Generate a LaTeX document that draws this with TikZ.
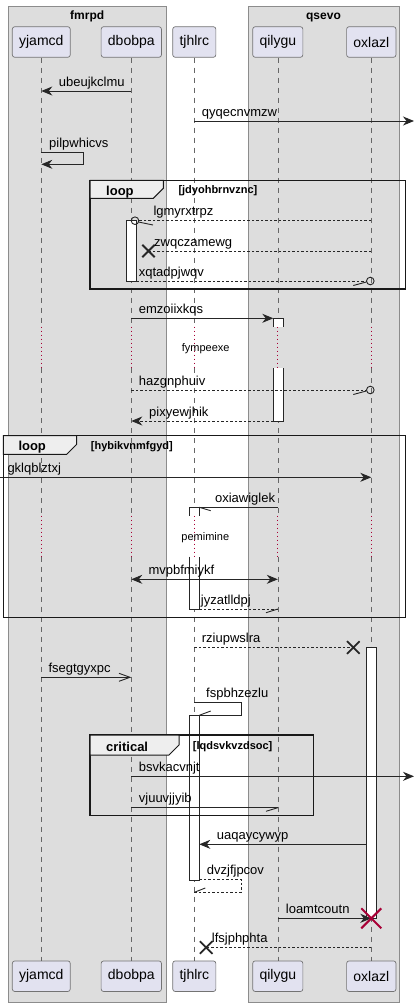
\documentclass[tikz,border=0pt]{standalone}
\usepackage{fontspec}
\setmainfont{Liberation Sans}
\usetikzlibrary{arrows.meta}

\definecolor{grpfill}{HTML}{DDDDDD}
\definecolor{partfill}{HTML}{E2E2F0}
\definecolor{tabfill}{HTML}{EEEEEE}
\definecolor{killred}{HTML}{A80036}

\begin{document}
\begin{tikzpicture}[x=1pt, y=-1pt,
    part/.style={draw=black!55, fill=partfill, rounded corners=2.5pt, line width=0.7pt,
      inner xsep=6.8pt, minimum height=30.6pt, font=\fontsize{14}{16}\selectfont},
    grp/.style={draw=black!45, fill=grpfill, line width=0.9pt},
    life/.style={draw=black!60, line width=0.6pt, dash pattern=on 5pt off 5pt},
    pause/.style={draw=killred, line width=0.7pt, dash pattern=on 1pt off 3pt},
    msg/.style={draw=black!85, line width=0.9pt},
    back/.style={msg, dash pattern=on 2.5pt off 2pt},
    head/.style={-{Stealth[length=11pt,width=9pt,inset=3.5pt]}},
    barb/.style={-{Straight Barb[length=11pt,width=8pt]}},
    lbl/.style={anchor=base west, inner sep=0pt, font=\fontsize{13}{15}\selectfont},
    act/.style={draw=black!85, fill=white, line width=0.9pt},
    frm/.style={draw=black!90, line width=1.5pt},
    tab/.style={draw=black!90, fill=tabfill, line width=1pt},
    frmlbl/.style={anchor=base west, inner sep=0pt, font=\bfseries\fontsize{13}{15}\selectfont},
    cond/.style={anchor=base west, inner sep=0pt, font=\bfseries\fontsize{11}{13}\selectfont},
    kill/.style={draw=black!85, line width=1.8pt}]
  \useasboundingbox (0,0) rectangle (415,1007);

  \draw[grp] (8.3,6) rectangle (166,1002);
  \draw[grp] (248,6) rectangle (399,1002);
  \node[font=\bfseries\fontsize{12}{14}\selectfont, anchor=base] at (87.2,19) {fmrpd};
  \node[font=\bfseries\fontsize{12}{14}\selectfont, anchor=base] at (323.5,19) {qsevo};

  \foreach \p/\x in {yjamcd/41.3, dbobpa/131.3, tjhlrc/194.3, qilygu/277.8, oxlazl/371.3}{
    \node[part] (\p) at (\x,42) {\p};
    \node[part] (\p-b) at (\x,976.2) {\p};
  }
  \coordinate (leftedge) at (0,0);
  \coordinate (rightedge) at (414,0);

  \foreach \p in {yjamcd,dbobpa,tjhlrc,qilygu,oxlazl}{
    \draw[life] (\p.south) -- (\p |- 0,326.7);
    \draw[pause] (\p |- 0,326.7) -- (\p |- 0,368.3);
    \draw[life] (\p |- 0,368.3) -- (\p |- 0,515.7);
    \draw[pause] (\p |- 0,515.7) -- (\p |- 0,556.7);
    \draw[life] (\p |- 0,556.7) -- (\p-b.north);
  }

  % activations
  \draw[act] (126.7,220.7) rectangle (136.7,281);
  \fill[white] (273.3,318.3) rectangle (283.3,326.7);
  \draw[act] (273.3,326.7) -- (273.3,318.3) -- (283.3,318.3) -- (283.3,326.7);
  \fill[white] (273.3,368.3) rectangle (283.3,421);
  \draw[act] (273.3,368.3) -- (273.3,421) -- (283.3,421) -- (283.3,368.3);
  \fill[white] (189.3,507.3) rectangle (199.3,515.7);
  \draw[act] (189.3,515.7) -- (189.3,507.3) -- (199.3,507.3) -- (199.3,515.7);
  \fill[white] (189.3,556.7) rectangle (199.3,609);
  \draw[act] (189.3,556.7) -- (189.3,609) -- (199.3,609) -- (199.3,556.7);
  \draw[act] (366.7,647.3) rectangle (376.7,918.3);
  \draw[act] (189.3,715.3) rectangle (199.3,880.7);

  % loop frames and critical
  \draw[frm] (90,180.3) rectangle (405.7,289);
  \draw[tab] (90,180.3) -- (163.3,180.3) -- (163.3,188.3) -- (153.3,198.3) -- (90,198.3) -- cycle;
  \node[frmlbl] at (106,195) {loop};
  \node[cond] at (178.3,193) {[jdyohbrnvznc]};

  \draw[frm] (3.3,435.7) rectangle (405.7,617.3);
  \draw[tab] (3.3,435.7) -- (76.7,435.7) -- (76.7,444.3) -- (66.7,454.3) -- (3.3,454.3) -- cycle;
  \node[frmlbl] at (18.3,450.5) {loop};
  \node[cond] at (90.7,449.5) {[hybikvnmfgyd]};

  \draw[frm] (90,735) rectangle (313.3,815.7);
  \draw[tab] (90,735) -- (179,735) -- (179,745) -- (169,755) -- (90,755) -- cycle;
  \node[frmlbl] at (106,751) {critical};
  \node[cond] at (192.7,749) {[lqdsvkvzdsoc]};

  % messages
  \draw[msg, head] (dbobpa |- 0,91) -- (yjamcd |- 0,91);
  \node[lbl] at (58.7,86) {ubeujkclmu};

  \draw[msg, head] (tjhlrc |- 0,121) -- (rightedge |- 0,121);
  \node[lbl] at (201.7,116) {qyqecnvmzw};

  \draw[msg, head] (yjamcd |- 0,152.3) -- ++(42,0) -- ++(0,12) -- (yjamcd |- 0,164.3);
  \node[lbl] at (49,147.3) {pilpwhicvs};

  \draw[back] (oxlazl |- 0,220.7) -- (139,220.7);
  \draw[msg] (135,220.7) circle [radius=3.8];
  \draw[msg] (138.5,222) -- (153,225);
  \node[lbl] at (153.3,215.7) {lgmyrxtrpz};

  \draw[back] (oxlazl |- 0,251) -- (148.5,251);
  \draw[kill] (142.3,244.8) -- (154.7,257.2) (142.3,257.2) -- (154.7,244.8);
  \node[lbl] at (154,246) {zwqczamewg};

  \draw[back] ([xshift=5pt]dbobpa |- 0,281) -- (366.3,281);
  \draw[msg] (370.3,281) circle [radius=3.8];
  \draw[msg] (353.3,285.5) -- (366.3,282);
  \node[lbl] at (138.7,276) {xqtadpjwqv};

  \draw[msg, head] (dbobpa |- 0,318.3) -- ([xshift=-4.5pt]qilygu |- 0,318.3);
  \node[lbl] at (138.7,313.3) {emzoiixkqs};

  \node[font=\fontsize{11}{13}\selectfont] (fympeexe) at (205.7,348.3) {fympeexe};

  \draw[back] (dbobpa |- 0,390) -- (366.3,390);
  \draw[msg] (370.3,390) circle [radius=3.8];
  \draw[msg] (353.3,394.5) -- (366.3,391);
  \node[lbl] at (138.7,385) {hazgnphuiv};

  \draw[back, head] ([xshift=-4.5pt]qilygu |- 0,421) -- (dbobpa |- 0,421);
  \node[lbl] at (149,416) {pixyewjhik};

  \draw[msg, head] (leftedge |- 0,477.3) -- (oxlazl |- 0,477.3);
  \node[lbl] at (7.3,472.3) {gklqblztxj};

  \draw[msg] (qilygu |- 0,507.3) -- ([xshift=5pt]tjhlrc |- 0,507.3);
  \draw[msg] (199.3,507.3) -- (210.7,510.7);
  \node[lbl, anchor=base east] at (275.3,502.3) {oxiawiglek};

  \node[font=\fontsize{11}{13}\selectfont] (pemimine) at (205.3,537.3) {pemimine};

  \draw[msg, {Stealth[length=11pt,width=9pt,inset=3.5pt]}-{Stealth[length=11pt,width=9pt,inset=3.5pt]}]
    (dbobpa |- 0,579.3) -- (qilygu |- 0,579.3);
  \node[lbl] at (148.3,574.3) {mvpbfmiykf};

  \draw[back] ([xshift=5pt]tjhlrc |- 0,609) -- (qilygu |- 0,609);
  \draw[msg] (266,612.7) -- (277.8,609);
  \node[lbl] at (200.7,604) {jyzatlldpj};

  \draw[back] (tjhlrc |- 0,647.5) -- (353.3,647.5);
  \draw[kill] (347,641.2) -- (359.6,653.8) (347,653.8) -- (359.6,641.2);
  \node[lbl] at (201.7,642.5) {rziupwslra};

  \draw[msg, barb] (yjamcd |- 0,677.3) -- (dbobpa |- 0,677.3);
  \node[lbl] at (48.3,672.3) {fsegtgyxpc};

  \draw[msg] (tjhlrc |- 0,702.3) -- ++(46.7,0) -- ++(0,13) -- ([xshift=5pt]tjhlrc |- 0,715.3);
  \draw[msg] (199.3,715.3) -- (210.7,711);
  \node[lbl] at (206,697.3) {fspbhzezlu};

  \draw[msg, head] (dbobpa |- 0,776.3) -- (rightedge |- 0,776.3);
  \node[lbl] at (138.7,771.3) {bsvkacvnjt};

  \draw[msg] (dbobpa |- 0,807.7) -- (qilygu |- 0,807.7);
  \draw[msg] (266,811.3) -- (277.8,807.7);
  \node[lbl] at (138.7,802.7) {vjuuvjjyib};

  \draw[msg, head] ([xshift=-4.5pt]oxlazl |- 0,844.3) -- ([xshift=5pt]tjhlrc |- 0,844.3);
  \node[lbl] at (216.7,839.3) {uaqaycywyp};

  \draw[back] ([xshift=5pt]tjhlrc |- 0,879.3) -- ++(41.7,0) -- ++(0,13) -- (tjhlrc |- 0,892.3);
  \draw[msg] (194.3,892.3) -- (205.3,888);
  \node[lbl] at (206.7,874.3) {dvzjfjpcov};

  \draw[msg, head] (qilygu |- 0,918.3) -- (oxlazl |- 0,918.3);
  \draw[draw=killred, line width=2pt] (361.3,908.3) -- (381.3,928.3) (361.3,928.3) -- (381.3,908.3);
  \node[lbl] at (285.7,913.3) {loamtcoutn};

  \draw[back] (oxlazl |- 0,947.5) -- (206.2,947.5);
  \draw[kill] (199.9,941.2) -- (212.5,953.8) (199.9,953.8) -- (212.5,941.2);
  \node[lbl] at (211.7,942.5) {lfsjphphta};
\end{tikzpicture}
\end{document}
